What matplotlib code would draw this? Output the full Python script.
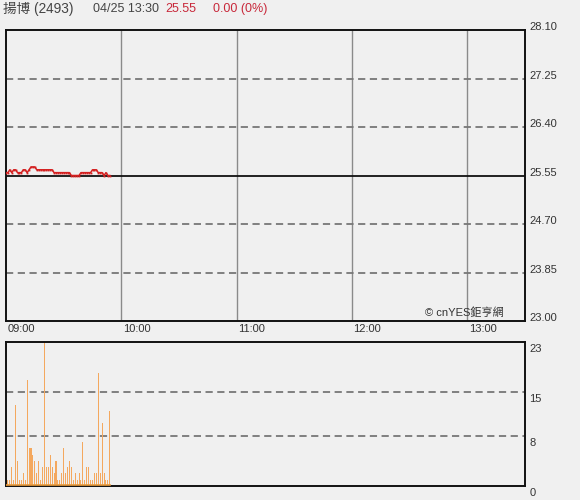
import matplotlib.pyplot as plt
import matplotlib.transforms as mtransforms
import numpy as np

plt.rcParams['font.family'] = ['Liberation Sans', 'Noto Sans CJK TC', 'DejaVu Sans']

# minutes after 09:00
minutes = list(range(55))
prices = [25.60, 25.60, 25.65, 25.60, 25.65, 25.65, 25.60, 25.60, 25.60, 25.65,
          25.65, 25.60, 25.65, 25.70, 25.70, 25.70, 25.65, 25.65, 25.65, 25.65,
          25.65, 25.65, 25.65, 25.65, 25.65, 25.60, 25.60, 25.60, 25.60, 25.60,
          25.60, 25.60, 25.60, 25.60, 25.55, 25.55, 25.55, 25.55, 25.55, 25.60,
          25.60, 25.60, 25.60, 25.60, 25.60, 25.65, 25.65, 25.65, 25.60, 25.60,
          25.60, 25.55, 25.60, 25.55, 25.55]
volumes = [1, 1, 1, 3, 1, 13, 4, 1, 1, 2,
           1, 17, 6, 6, 5, 4, 2, 4, 1, 3,
           23, 3, 3, 5, 3, 2, 4, 1, 1, 2,
           6, 2, 3, 4, 3, 1, 2, 1, 2, 1,
           7, 1, 3, 3, 1, 1, 2, 2, 18, 2,
           10, 2, 1, 1, 12]

price_ticks = [28.10, 27.25, 26.40, 25.55, 24.70, 23.85, 23.00]
prev_close = 25.55
vol_ticks = [23, 15, 8, 0]
hour_pos = [0, 60, 120, 180, 240]
hour_labels = ['09:00', '10:00', '11:00', '12:00', '13:00']

bg = '#f0f0f0'
fig = plt.figure(figsize=(5.8, 5.0), dpi=100, facecolor=bg)
ax = fig.add_axes([6/580, 1-321/500, 519/580, 291/500], facecolor=bg)
axv = fig.add_axes([6/580, 1-486/500, 519/580, 144/500], facecolor=bg)

# price panel
ax.set_xlim(0, 270)
ax.set_ylim(23.00, 28.10)
for h in hour_pos[1:]:
    ax.axvline(h, color='#8a8a8a', lw=1.0, zorder=1)
for p in price_ticks[1:-1]:
    if p == prev_close:
        ax.axhline(p, color='#111111', lw=1.3, zorder=2)
    else:
        ax.axhline(p, color='#777777', lw=1.3, ls=(0, (4, 2.5)), zorder=1)
ax.plot(minutes, prices, color='#d42020', lw=1.1, marker='s', ms=1.3,
        markeredgewidth=0, zorder=3)
ax.set_xticks([])
ax.set_yticks([])
for s in ax.spines.values():
    s.set_color('#111111')
    s.set_linewidth(1.4)

off = mtransforms.offset_copy(ax.get_yaxis_transform(), fig=fig, x=3, y=2, units='points')
for p in price_ticks:
    ax.text(1.0, p, f'{p:.2f}', transform=off, ha='left', va='center',
            fontsize=8, color='#333333')
offx = mtransforms.offset_copy(ax.get_xaxis_transform(), fig=fig, x=1, y=-2, units='points')
for h, lab in zip(hour_pos, hour_labels):
    ax.text(h, 0, lab, transform=offx, ha='left', va='top', fontsize=8, color='#333333')

ax.text(0.96, 0.012, '© cnYES鉅亨網', transform=ax.transAxes, ha='right', va='bottom',
        fontsize=8, color='#333333')

# volume panel
axv.set_xlim(0, 270)
axv.set_ylim(0, 23)
for v in vol_ticks[1:-1]:
    axv.axhline(v, color='#777777', lw=1.3, ls=(0, (4, 2.5)), zorder=1)
axv.bar(minutes, volumes, width=0.55, color='#f4a85e', linewidth=0, zorder=2)
axv.plot([0, max(minutes)], [0.1, 0.1], color='#e89a3a', lw=1.2, zorder=3)
axv.set_xticks([])
axv.set_yticks([])
for s in axv.spines.values():
    s.set_color('#111111')
    s.set_linewidth(1.4)
offv = mtransforms.offset_copy(axv.get_yaxis_transform(), fig=fig, x=3, y=-5, units='points')
for v in vol_ticks:
    axv.text(1.0, v, str(v), transform=offv, ha='left', va='center',
             fontsize=8, color='#333333')

# header
fig.text(3/580, 1-9/500, '揚博 (2493)', ha='left', va='center', fontsize=9.8, color='#444444')
fig.text(93/580, 1-9/500, '04/25 13:30', ha='left', va='center', fontsize=9, color='#444444')
fig.text(165/580, 1-9/500, '25.55', ha='left', va='center', fontsize=9, color='#c8283a')
fig.text(213/580, 1-9/500, '0.00 (0%)', ha='left', va='center', fontsize=9, color='#c8283a')

fig.savefig('out.png', dpi=100, facecolor=bg)
